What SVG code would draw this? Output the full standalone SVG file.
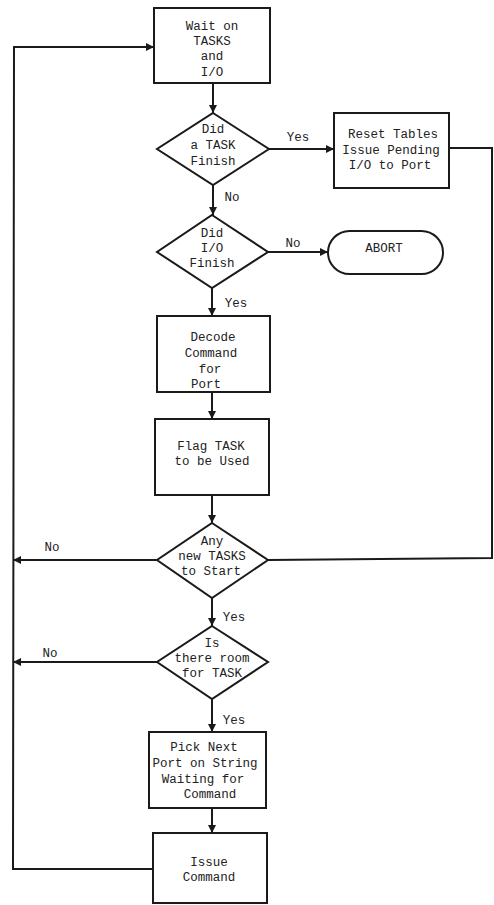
<svg xmlns="http://www.w3.org/2000/svg" width="494" height="905" viewBox="0 0 494 905">
<defs>
<marker id="ah" viewBox="0 0 10 10" refX="10" refY="5" markerWidth="9" markerHeight="8" markerUnits="userSpaceOnUse" orient="auto">
<path d="M0,0 L10,5 L0,10 z" fill="#1a1a1a"/>
</marker>
</defs>
<style>
.n{fill:#fff;stroke:#1a1a1a;stroke-width:2}
.t{font-family:"Liberation Mono","DejaVu Sans Mono",monospace;font-size:12.5px;fill:#222;text-anchor:middle}
.c{fill:none;stroke:#1a1a1a;stroke-width:2}
.a{marker-end:url(#ah)}
</style>
<rect width="494" height="905" fill="#fff"/>
<g id="connectors">
<line class="c a" x1="213" y1="83" x2="213" y2="113"/>
<line class="c a" x1="213" y1="185" x2="213" y2="215"/>
<line class="c a" x1="269" y1="149" x2="334" y2="149"/>
<polyline class="c" points="449,148 492,148 492,558 268,560"/>
<line class="c a" x1="268" y1="252" x2="328" y2="252"/>
<line class="c a" x1="212" y1="288" x2="212" y2="316"/>
<line class="c a" x1="212" y1="392" x2="212" y2="419"/>
<line class="c a" x1="212" y1="495" x2="212" y2="523"/>
<line class="c a" x1="157" y1="560" x2="13" y2="560"/>
<line class="c a" x1="212" y1="598" x2="212" y2="626"/>
<line class="c a" x1="157" y1="662" x2="13" y2="662"/>
<line class="c a" x1="212" y1="699" x2="212" y2="732"/>
<line class="c a" x1="212" y1="808" x2="212" y2="833"/>
<polyline class="c a" points="153,869 13,869 14,47 154,47"/>
<text class="t" x="232" y="201">No</text>
<text class="t" x="298" y="141">Yes</text>
<text class="t" x="293" y="247">No</text>
<text class="t" x="236" y="307">Yes</text>
<text class="t" x="52" y="551">No</text>
<text class="t" x="234" y="621">Yes</text>
<text class="t" x="50" y="657">No</text>
<text class="t" x="234" y="724">Yes</text>
</g>
<g id="wait">
<rect class="n" x="154" y="8" width="116" height="75"/>
<text class="t" x="212" y="30">Wait on</text>
<text class="t" x="212" y="45">TASKS</text>
<text class="t" x="212" y="60">and</text>
<text class="t" x="212" y="76">I/O</text>
</g>
<g id="taskfinish">
<polygon class="n" points="213,113 269,149 213,185 157,149"/>
<text class="t" x="213" y="133">Did</text>
<text class="t" x="213" y="149">a TASK</text>
<text class="t" x="213" y="165">Finish</text>
</g>
<g id="reset">
<rect class="n" x="334" y="113" width="115" height="75"/>
<text class="t" x="393" y="138">Reset Tables</text>
<text class="t" x="391" y="154">Issue Pending</text>
<text class="t" x="390" y="169">I/O to Port</text>
</g>
<g id="iofinish">
<polygon class="n" points="212,215 268,252 212,288 157,252"/>
<text class="t" x="212" y="237">Did</text>
<text class="t" x="212" y="252">I/O</text>
<text class="t" x="212" y="267">Finish</text>
</g>
<g id="abort">
<rect class="n" x="328" y="231" width="115" height="43" rx="21.5" ry="21.5"/>
<text class="t" x="384" y="252">ABORT</text>
</g>
<g id="decode">
<rect class="n" x="157" y="316" width="113" height="76"/>
<text class="t" x="213" y="341">Decode</text>
<text class="t" x="211" y="357">Command</text>
<text class="t" x="210" y="373">for</text>
<text class="t" x="206" y="388">Port</text>
</g>
<g id="flag">
<rect class="n" x="155" y="419" width="114" height="76"/>
<text class="t" x="211" y="450">Flag TASK</text>
<text class="t" x="212" y="465">to be Used</text>
</g>
<g id="anynew">
<polygon class="n" points="212,523 268,560 212,598 157,560"/>
<text class="t" x="212" y="545">Any</text>
<text class="t" x="212" y="560">new TASKS</text>
<text class="t" x="211" y="575">to Start</text>
</g>
<g id="room">
<polygon class="n" points="212,626 268,662 212,699 157,662"/>
<text class="t" x="212" y="647">Is</text>
<text class="t" x="212" y="662">there room</text>
<text class="t" x="212" y="677">for TASK</text>
</g>
<g id="pick">
<rect class="n" x="149" y="732" width="117" height="76"/>
<text class="t" x="204" y="751">Pick Next</text>
<text class="t" x="205" y="767">Port on String</text>
<text class="t" x="203" y="783">Waiting for</text>
<text class="t" x="210" y="798">Command</text>
</g>
<g id="issue">
<rect class="n" x="153" y="833" width="114" height="70"/>
<text class="t" x="209" y="866">Issue</text>
<text class="t" x="209" y="881">Command</text>
</g>
</svg>
